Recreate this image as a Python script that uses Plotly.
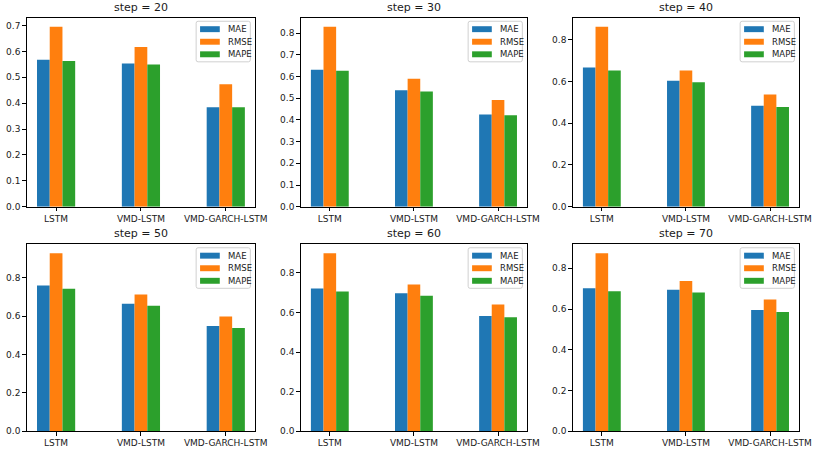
import plotly.graph_objects as go

# ---- data ----
models = ["LSTM", "VMD-LSTM", "VMD-GARCH-LSTM"]
steps = [20, 30, 40, 50, 60, 70]
metrics = ["MAE", "RMSE", "MAPE"]

mae = [
    [0.568, 0.553, 0.384],
    [0.631, 0.537, 0.425],
    [0.667, 0.604, 0.484],
    [0.759, 0.665, 0.548],
    [0.722, 0.697, 0.583],
    [0.702, 0.694, 0.595],
]
rmse = [
    [0.695, 0.617, 0.473],
    [0.829, 0.590, 0.492],
    [0.862, 0.653, 0.538],
    [0.928, 0.713, 0.598],
    [0.900, 0.742, 0.641],
    [0.874, 0.737, 0.647],
]
mape = [
    [0.563, 0.549, 0.384],
    [0.627, 0.531, 0.422],
    [0.653, 0.596, 0.478],
    [0.743, 0.654, 0.538],
    [0.707, 0.685, 0.576],
    [0.687, 0.681, 0.585],
]
y_dticks = [0.1, 0.1, 0.2, 0.2, 0.2, 0.2]

# ---- layout geometry (pixels) ----
W, H = 831, 457
x_px = [(27, 259), (305, 535), (581, 811)]
y_px = [(18, 209), (247, 436)]
colors = ["#1f77b4", "#ff7f0e", "#2ca02c"]
FONT = "DejaVu Sans"
TXT = "#1a1a1a"


def px(x):
    return x / W


def py(y):
    return 1 - y / H


fig = go.Figure()
layout = dict(
    width=W, height=H, margin=dict(l=0, r=0, t=0, b=0),
    paper_bgcolor="white", plot_bgcolor="white",
    barmode="group", bargap=0.55, bargroupgap=0,
    font=dict(family=FONT, size=9, color=TXT),
    showlegend=False,
)
annotations = []
shapes = []
xpos = list(range(len(models)))

for i, step in enumerate(steps):
    row, col = divmod(i, 3)
    xa = "x" if i == 0 else f"x{i+1}"
    ya = "y" if i == 0 else f"y{i+1}"
    series = [mae[i], rmse[i], mape[i]]
    for m, vals, c in zip(metrics, series, colors):
        fig.add_trace(go.Bar(
            x=xpos, y=vals, name=m, marker=dict(color=c, line=dict(width=0)),
            xaxis=xa, yaxis=ya, offsetgroup=m, showlegend=False,
        ))
    x0, x1 = x_px[col]
    y0, y1 = y_px[row]
    ymax = max(max(s) for s in series) * 1.05
    axis_common = dict(showline=True, linecolor="black", linewidth=0.8, mirror=True,
                       ticks="outside", ticklen=3.5, tickwidth=0.8, tickcolor="black",
                       showgrid=False, zeroline=False,
                       tickfont=dict(family=FONT, size=9, color=TXT))
    layout["xaxis" if i == 0 else f"xaxis{i+1}"] = dict(
        domain=[px(x0), px(x1)], anchor=ya, range=[-0.3475, 2.3475],
        tickmode="array", tickvals=xpos, ticktext=models, tickangle=0,
        **axis_common)
    layout["yaxis" if i == 0 else f"yaxis{i+1}"] = dict(
        domain=[py(y1), py(y0)], anchor=xa, range=[0, ymax],
        tickmode="linear", tick0=0, dtick=y_dticks[i], tickformat=".1f",
        **axis_common)

    # subplot title
    annotations.append(dict(
        text=f"step = {step}", x=px((x0 + x1) / 2), y=py(y0),
        xref="paper", yref="paper", xanchor="center", yanchor="bottom",
        yshift=2, showarrow=False,
        font=dict(family=FONT, size=11, color=TXT),
    ))

    # legend box (matplotlib style, upper right)
    lw, lh = 55, 41
    lx1 = x1 - 5
    lx0 = lx1 - lw
    ly0 = y0 + 3.5
    ly1 = ly0 + lh
    r = 2
    path = (f"M {px(lx0 + r)} {py(ly0)} L {px(lx1 - r)} {py(ly0)} "
            f"Q {px(lx1)} {py(ly0)} {px(lx1)} {py(ly0 + r)} "
            f"L {px(lx1)} {py(ly1 - r)} Q {px(lx1)} {py(ly1)} {px(lx1 - r)} {py(ly1)} "
            f"L {px(lx0 + r)} {py(ly1)} Q {px(lx0)} {py(ly1)} {px(lx0)} {py(ly1 - r)} "
            f"L {px(lx0)} {py(ly0 + r)} Q {px(lx0)} {py(ly0)} {px(lx0 + r)} {py(ly0)} Z")
    shapes.append(dict(type="path", path=path, xref="paper", yref="paper",
                       line=dict(color="#d0d0d0", width=1),
                       fillcolor="rgba(255,255,255,0.8)", layer="above"))
    for k, (m, c) in enumerate(zip(metrics, colors)):
        cy = ly0 + 8 + 12.7 * k
        shapes.append(dict(type="rect", xref="paper", yref="paper",
                           x0=px(lx0 + 4), x1=px(lx0 + 24),
                           y0=py(cy + 3), y1=py(cy - 3),
                           line=dict(width=0), fillcolor=c, layer="above"))
        annotations.append(dict(
            text=m, x=px(lx0 + 30), y=py(cy), xref="paper", yref="paper",
            xanchor="left", yanchor="middle", showarrow=False,
            font=dict(family=FONT, size=8.5, color=TXT),
        ))

layout["annotations"] = annotations
layout["shapes"] = shapes
fig.update_layout(**layout)
fig.write_html("out.html", config={"displayModeBar": False},
               post_script="document.body.style.margin='0';document.body.style.overflow='hidden';")
